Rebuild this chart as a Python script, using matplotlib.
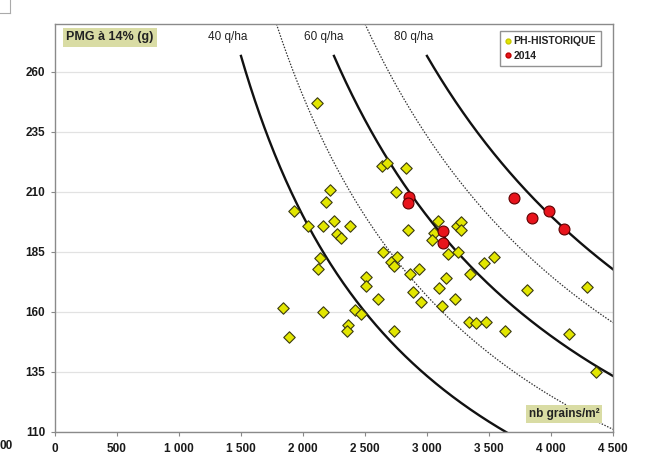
import numpy as np
import matplotlib
matplotlib.use("Agg")
import matplotlib.pyplot as plt
from matplotlib.lines import Line2D
from matplotlib.ticker import FuncFormatter

plt.rcParams['font.family'] = ['Liberation Sans', 'DejaVu Sans']

# ---- data ----
hist_n = [2113, 2637, 2677, 2831, 2218, 2750, 2185, 1927, 2040, 2161, 2250, 2379,
          2274, 2306, 2847, 3089, 3056, 3040, 3169, 3242, 2137, 2645, 2758, 2121,
          2710, 2734, 2863, 2935, 2508, 2508, 2605, 2887, 2952, 3097, 3153, 3226,
          3121, 1838, 2161, 2419, 2468, 2363, 2355, 2734, 1887, 3250, 3274, 3274,
          3347, 3460, 3540, 3806, 4290, 3339, 3395, 3476, 3629, 4145, 4363]
hist_pmg = [247, 221, 222, 220, 211, 210, 206, 202, 196, 196, 198, 196,
            192.5, 191, 194, 198, 193, 190, 184, 196, 182.5, 185, 183, 178,
            181, 179, 176, 178, 174.5, 171, 165.5, 168.5, 164, 170, 174, 165.5,
            162.5, 161.5, 160, 161, 159, 154.5, 152, 152, 149.5, 185, 197.5, 194,
            176, 180.5, 183, 169, 170.5, 156, 155.5, 156, 152, 151, 135]

y2014_n = [2855, 2847, 3129, 3129, 3702, 3847, 3984, 4105]
y2014_pmg = [208, 205.5, 193.7, 188.7, 207.5, 199, 202, 194.6]

iso_yields = [40, 50, 60, 70, 80]          # q/ha
iso_solid = [True, False, True, False, True]
iso_labels = ["40 q/ha", "60 q/ha", "80 q/ha"]
iso_label_x = [1395, 2170, 2890]

x_ticks = [0, 500, 1000, 1500, 2000, 2500, 3000, 3500, 4000, 4500]
y_ticks = [110, 135, 160, 185, 210, 235, 260]

W, H = 648, 462
fig = plt.figure(figsize=(W / 100, H / 100), dpi=100)
ax = fig.add_axes([55 / W, 1 - 432 / H, (613 - 55) / W, (432 - 24) / H])

ax.set_xlim(0, 4500)
ax.set_ylim(110, 280)

# iso-yield curves: PMG = yield * 10000 / N
for yv, solid in zip(iso_yields, iso_solid):
    pmg_top = 266.7 if solid else 280
    n_start = yv * 10000 / pmg_top
    n = np.linspace(n_start, 4500, 400)
    p = yv * 10000 / n
    if solid:
        ax.plot(n, p, color='#111111', lw=1.7, zorder=2)
    else:
        ax.plot(n, p, color='#333333', lw=0.9, ls=(0, (1.2, 1.2)), zorder=2)

ax.scatter(hist_n, hist_pmg, marker='D', s=34, c='#e2e600', edgecolors='#3a3a10',
           linewidths=0.8, zorder=4)
ax.scatter(y2014_n, y2014_pmg, marker='o', s=62, c='#e8141c', edgecolors='#600000',
           linewidths=0.8, zorder=5)

for lab, xl in zip(iso_labels, iso_label_x):
    ax.text(xl, 274.6, lab, ha='center', va='center', fontsize=8.5, color='#222222')

ax.text(444, 274.4, "PMG à 14% (g)", ha='center', va='center', fontsize=9,
        fontweight='bold', color='#222222',
        bbox=dict(boxstyle='square,pad=0.25', fc='#d9dca4', ec='none'))
ax.text(4105, 117.5, "nb grains/m²", ha='center', va='center', fontsize=8.5,
        fontweight='bold', color='#222222',
        bbox=dict(boxstyle='square,pad=0.25', fc='#d9dca4', ec='none'))

ax.set_xticks(x_ticks)
ax.set_yticks(y_ticks)
ax.xaxis.set_major_formatter(FuncFormatter(lambda v, p: f"{int(v):,}".replace(",", " ")))
for lbl in ax.get_xticklabels() + ax.get_yticklabels():
    lbl.set_fontweight('bold')
    lbl.set_fontsize(8.5)
    lbl.set_color('#1a1a1a')
ax.tick_params(axis='both', length=3, color='#888888', pad=4)
ax.tick_params(axis='x', pad=5)
ax.grid(axis='y', color='#e2e2e2', lw=0.9, zorder=0)
ax.set_axisbelow(True)
for s in ax.spines.values():
    s.set_color('#8a8a8a')
    s.set_linewidth(1.0)

handles = [Line2D([], [], marker='o', ls='none', ms=3.5, mfc='#e2e600', mec='#c8c800'),
           Line2D([], [], marker='o', ls='none', ms=3.5, mfc='#e8141c', mec='#c00000')]
leg = ax.legend(handles, ["PH-HISTORIQUE", "2014"], loc='upper left',
                bbox_to_anchor=((500 - 55) / (613 - 55), 1 - (31 - 24) / (432 - 24)),
                borderaxespad=0, frameon=True, fancybox=False, handlelength=0.6,
                handletextpad=0.2, borderpad=0.5, labelspacing=0.45,
                prop={'weight': 'bold', 'size': 7.5})
leg.get_frame().set_edgecolor('#777777')
leg.get_frame().set_linewidth(1.0)
for t in leg.get_texts():
    t.set_color('#222222')

# cut-off fragments at the picture's edges
fig.text(0 / W, 1 - 446 / H, "00", fontsize=8.5, fontweight='bold', color='#1a1a1a',
         ha='left', va='center')
fig.add_artist(Line2D([0, 10 / W], [1 - 13 / H, 1 - 13 / H], color='#aaaaaa', lw=0.8))
fig.add_artist(Line2D([10 / W, 10 / W], [1 - 13 / H, 1.0], color='#aaaaaa', lw=0.8))

fig.savefig("out.png", dpi=100)
